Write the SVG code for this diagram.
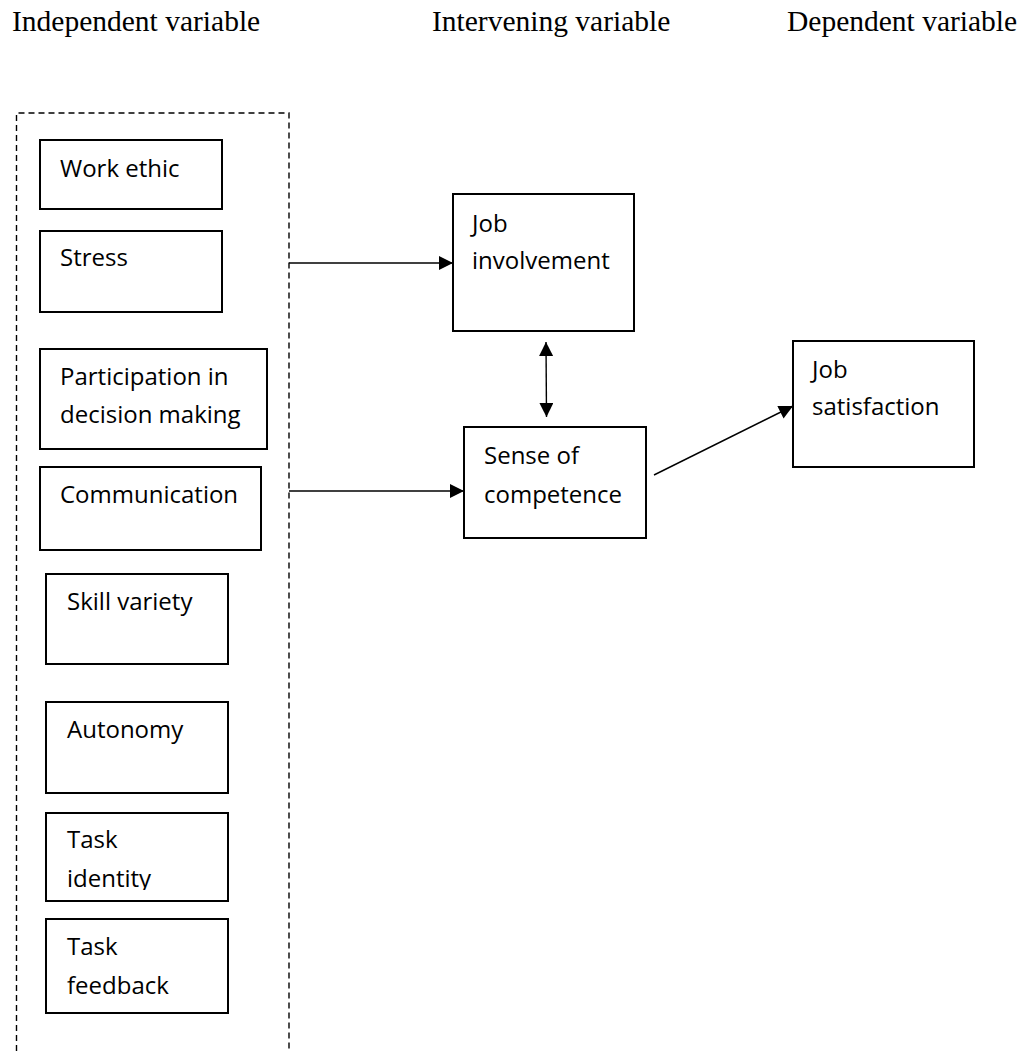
<svg xmlns="http://www.w3.org/2000/svg" width="1027" height="1051" viewBox="0 0 1027 1051">
<style>
.hdr{font-family:"Liberation Serif","Times New Roman",serif;font-size:29.5px;fill:#000}
.lbl{font-family:"Open Sans","Liberation Sans",sans-serif;font-size:24px;fill:#000}
.box{fill:#fff;stroke:#000;stroke-width:2}
.con{fill:none;stroke:#000;stroke-width:1.4}
</style>
<defs>
<marker id="arr" viewBox="0 0 10 10" refX="10" refY="5" markerWidth="15" markerHeight="14" markerUnits="userSpaceOnUse" orient="auto-start-reverse">
<path d="M0,0 L10,5 L0,10 Z" fill="#000"/>
</marker>
<clipPath id="clipTI"><rect x="46" y="813" width="182" height="77"/></clipPath>
</defs>
<rect width="1027" height="1051" fill="#fff"/>
<g id="headers">
<text class="hdr" x="12" y="31">Independent variable</text>
<text class="hdr" x="432" y="31">Intervening variable</text>
<text class="hdr" x="787" y="31">Dependent variable</text>
</g>
<g id="independent-group">
<path d="M16.5,1051 V113 H289 V1051" fill="none" stroke="#000" stroke-width="1.4" stroke-dasharray="6,4"/>
</g>
<g id="work-ethic"><rect class="box" x="40" y="140" width="182" height="69"/><text class="lbl" x="60" y="177">Work ethic</text></g>
<g id="stress"><rect class="box" x="40" y="231" width="182" height="81"/><text class="lbl" x="60" y="266">Stress</text></g>
<g id="participation"><rect class="box" x="40" y="349" width="227" height="100"/><text class="lbl" x="60" y="385">Participation in</text><text class="lbl" x="60" y="423">decision making</text></g>
<g id="communication"><rect class="box" x="40" y="467" width="221" height="83"/><text class="lbl" x="60" y="503">Communication</text></g>
<g id="skill-variety"><rect class="box" x="46" y="574" width="182" height="90"/><text class="lbl" x="67" y="610">Skill variety</text></g>
<g id="autonomy"><rect class="box" x="46" y="702" width="182" height="91"/><text class="lbl" x="67" y="738">Autonomy</text></g>
<g id="task-identity"><rect class="box" x="46" y="813" width="182" height="88"/><g clip-path="url(#clipTI)"><text class="lbl" x="67" y="848">Task</text><text class="lbl" x="67" y="887">identity</text></g></g>
<g id="task-feedback"><rect class="box" x="46" y="919" width="182" height="94"/><text class="lbl" x="67" y="955">Task</text><text class="lbl" x="67" y="994">feedback</text></g>
<g id="job-involvement"><rect class="box" x="453" y="194" width="181" height="137"/><text class="lbl" x="472" y="232">Job</text><text class="lbl" x="472" y="269">involvement</text></g>
<g id="sense-of-competence"><rect class="box" x="464" y="427" width="182" height="111"/><text class="lbl" x="484" y="464">Sense of</text><text class="lbl" x="484" y="503">competence</text></g>
<g id="job-satisfaction"><rect class="box" x="793" y="341" width="181" height="126"/><text class="lbl" x="812" y="378">Job</text><text class="lbl" x="812" y="415">satisfaction</text></g>
<g id="connectors">
<line class="con" x1="289" y1="263" x2="453" y2="263" marker-end="url(#arr)"/>
<line class="con" x1="289" y1="491" x2="464" y2="491" marker-end="url(#arr)"/>
<line class="con" x1="546" y1="342" x2="546.5" y2="417" marker-start="url(#arr)" marker-end="url(#arr)"/>
<line class="con" x1="654" y1="475" x2="793" y2="406" marker-end="url(#arr)"/>
</g>
</svg>
